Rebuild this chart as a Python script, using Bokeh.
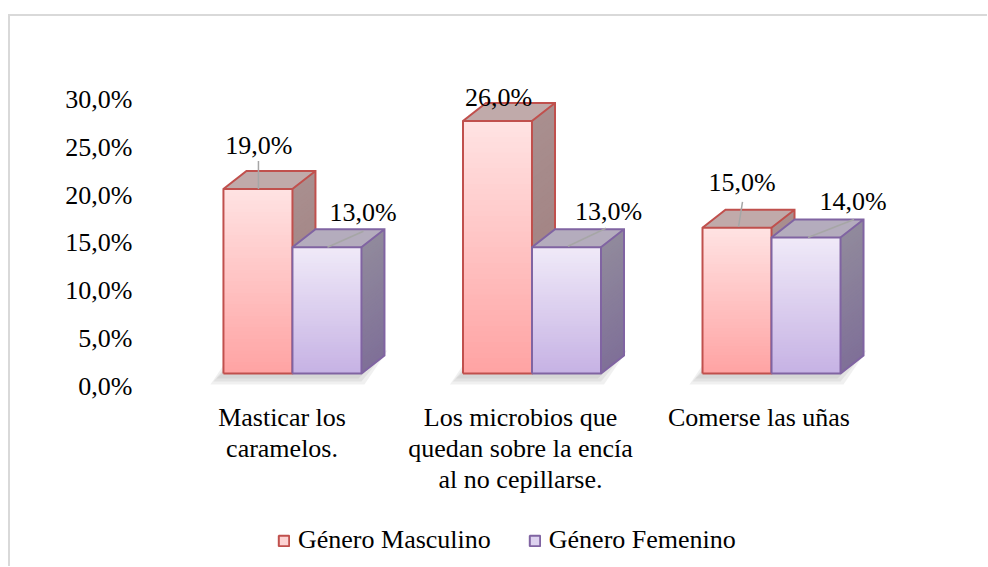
import numpy as np
from bokeh.plotting import figure
from bokeh.layouts import column
from bokeh.models import Range1d, LinearAxis, FixedTicker, Legend, LegendItem
from bokeh.embed import file_html
from bokeh.resources import INLINE
from bokeh.core.properties import value

# ---------------- data ----------------
categories = ["Masticar los\ncaramelos.",
              "Los microbios que\nquedan sobre la encía\nal no cepillarse.",
              "Comerse las uñas"]
masculino = [19.0, 26.0, 15.0]
femenino = [13.0, 13.0, 14.0]
series_names = ["Género Masculino", "Género Femenino"]
y_ticks = [0, 5, 10, 15, 20, 25, 30]
y_tick_labels = ["0,0%", "5,0%", "10,0%", "15,0%", "20,0%", "25,0%", "30,0%"]

# ---------------- styles ----------------
FONT = "Liberation Serif"
FS = "26px"
PX_X = 239.5   # pixels per category
PX_Y = 9.71    # pixels per percent
BAR_W = 69 / PX_X
DX = 23 / PX_X
DY = 18 / PX_Y
N = 48
W = 977

styles = {
    "m": dict(front=("#ffa3a3", "#ffe3e3"), side=("#9e7c7c", "#a98f8f"),
              top="#c0aaaa", line="#c0504d", legend="#fcd3d3"),
    "f": dict(front=("#c6b2e4", "#f0eaf8"), side=("#7f7098", "#918a9c"),
              top="#b4acbd", line="#8064a2", legend="#ddd2ef"),
}
# label offsets (px, y down) from front-top centre of each bar
label_off = {"m": [(1, -43), (1, -24), (5, -45)],
             "f": [(36, -35), (42, -36), (47, -36)]}
leader_off = {"m": [((0.5, -28), (0.5, 0)), None, ((5.5, -26), (1.5, -1))],
              "f": [((0.5, 0), (36.5, -16)), ((1.5, -1), (39.5, -19)), ((2, 0), (48, -18))]}


def hex2rgb(h):
    h = h.lstrip("#")
    return [int(h[i:i + 2], 16) for i in (0, 2, 4)]


def mix(c0, c1, t):
    a, b = hex2rgb(c0), hex2rgb(c1)
    return "#%02x%02x%02x" % tuple(int(round(a[i] + (b[i] - a[i]) * t)) for i in range(3))


p = figure(width=W, height=490, x_range=Range1d(-0.601, 2.789), y_range=Range1d(-1.957, 34.29),
           output_backend="svg", toolbar_location=None, x_axis_type=None, y_axis_type=None,
           min_border_left=138, min_border_right=15 + (W - 965), min_border_top=24,
           min_border_bottom=114, outline_line_color=None)

p.extra_y_ranges = {"yaxis": Range1d(-0.627, 36.15)}
p.extra_x_ranges = {"xaxis": Range1d(-0.560, 2.845)}

yax = LinearAxis(y_range_name="yaxis", ticker=FixedTicker(ticks=y_ticks))
yax.major_label_overrides = {t: l for t, l in zip(y_ticks, y_tick_labels)}
xax = LinearAxis(x_range_name="xaxis", ticker=FixedTicker(ticks=list(range(len(categories)))))
xax.major_label_overrides = {i: c for i, c in enumerate(categories)}
for ax in (yax, xax):
    ax.axis_line_color = None
    ax.major_tick_line_color = None
    ax.minor_tick_line_color = None
    ax.major_tick_out = 0
    ax.major_tick_in = 0
    ax.major_label_text_font = FONT
    ax.major_label_text_font_size = FS
    ax.major_label_text_color = "#000000"
yax.major_label_standoff = 16
xax.major_label_standoff = 10
xax.major_label_text_line_height = 1.08
p.add_layout(yax, "left")
p.add_layout(xax, "below")

cats = np.arange(len(categories))

# ---- floor shadows ----
sh_xs, sh_ys = [], []
for c in cats:
    x0 = c - BAR_W
    x1 = c + BAR_W
    for e in (2, 5, 8):
        ex = e / PX_X
        ey = e / PX_Y
        sx = -5 / PX_X
        sy = -3 / PX_Y
        sh_xs.append([x0 - ex + sx, x1 + ex + sx, x1 + DX + ex + sx, x0 + DX - ex + sx])
        sh_ys.append([-ey + sy, -ey + sy, DY + ey + sy, DY + ey + sy])
p.patches(sh_xs, sh_ys, fill_color="#808080", fill_alpha=0.12, line_color=None)

for key, vals in (("m", masculino), ("f", femenino)):
    st = styles[key]
    fl, fr, fb, ft, fc = [], [], [], [], []
    sxs, sys_, sc = [], [], []
    txs, tys = [], []
    oxs, oys = [], []
    for c, v in zip(cats, vals):
        x0 = c - BAR_W if key == "m" else c
        x1 = x0 + BAR_W
        for k in range(N):
            b = v * k / N
            t = min(v, v * (k + 2) / N)   # overlap next strip to hide seams
            col = mix(st["front"][0], st["front"][1], (k + 0.5) / N)
            fl.append(x0); fr.append(x1); fb.append(b); ft.append(t); fc.append(col)
            scol = mix(st["side"][0], st["side"][1], (k + 0.5) / N)
            sxs.append([x1, x1 + DX, x1 + DX, x1])
            sys_.append([b, b + DY, t + DY, t])
            sc.append(scol)
        txs.append([x0, x1, x1 + DX, x0 + DX])
        tys.append([v, v, v + DY, v + DY])
        oxs.append([x0, x1, x1 + DX, x1 + DX, x0 + DX, x0, x0, np.nan, x1, x1, x1 + DX])
        oys.append([0, 0, DY, v + DY, v + DY, v, 0, np.nan, 0, v, v + DY])
    p.quad(left=fl, right=fr, bottom=fb, top=ft, fill_color=fc, line_color=None)
    p.patches(sxs, sys_, fill_color=sc, line_color=None)
    p.patches(txs, tys, fill_color=st["top"], line_color=None)
    p.multi_line(oxs, oys, line_color=st["line"], line_width=2, line_join="miter")
    p.multi_line([[x[0], x[1]] for x in txs], [[y[0], y[1]] for y in tys],
                 line_color=st["line"], line_width=2)

# ---- data labels & leader lines ----
for key, vals in (("m", masculino), ("f", femenino)):
    lx, ly, lt = [], [], []
    llx, lly = [], []
    for i, (c, v) in enumerate(zip(cats, vals)):
        xc = (c - BAR_W / 2) if key == "m" else (c + BAR_W / 2)
        ox, oy = label_off[key][i]
        lx.append(xc + ox / PX_X)
        ly.append(v - oy / PX_Y)
        lt.append(("%.1f%%" % v).replace(".", ","))
        lo = leader_off[key][i]
        if lo is not None:
            (ax_, ay_), (bx_, by_) = lo
            llx.append([xc + ax_ / PX_X, xc + bx_ / PX_X])
            lly.append([v - ay_ / PX_Y, v - by_ / PX_Y])
    p.multi_line(llx, lly, line_color="#a6a6a6", line_width=1.5)
    p.text(x=lx, y=ly, text=lt, text_font=value(FONT), text_font_size=FS,
           text_align="center", text_baseline="middle", text_color="#000000")

# ---- legend strip (separate figure below the chart; frames are aligned) ----
pl = figure(width=W, height=60, x_range=Range1d(0, 1), y_range=Range1d(0, 1),
            output_backend="svg", toolbar_location=None, x_axis_type=None, y_axis_type=None,
            min_border=0, outline_line_color=None)
proxies = {}
for key in ("m", "f"):
    st = styles[key]
    proxies[key] = pl.quad(left=[np.nan], right=[np.nan], bottom=[np.nan], top=[np.nan],
                           fill_color=st["legend"], line_color=st["line"], line_width=2)
legend = Legend(items=[LegendItem(label=series_names[0], renderers=[proxies["m"]]),
                       LegendItem(label=series_names[1], renderers=[proxies["f"]])],
                orientation="horizontal", location=(129, 11),
                label_text_font=FONT, label_text_font_size=FS, label_text_color="#000000",
                glyph_width=13, glyph_height=13, label_standoff=8, spacing=37,
                padding=0, margin=0, border_line_color=None, background_fill_alpha=0)
pl.add_layout(legend, "center")

layout = column(p, pl, spacing=0,
                styles={"border-top": "2px solid #d9d9d9", "border-left": "2px solid #d9d9d9",
                        "margin-top": "14px", "margin-left": "8px"})

open("out.html", "w").write(file_html(layout, INLINE))
